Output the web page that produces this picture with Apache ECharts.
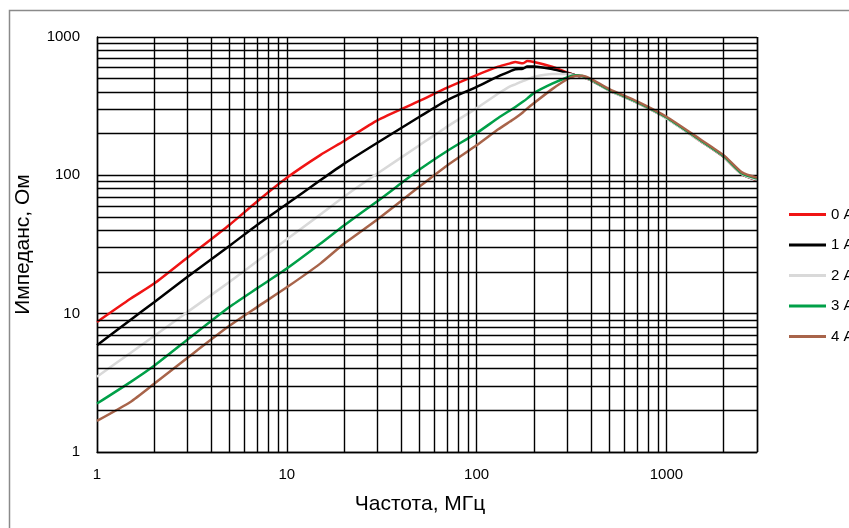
<!DOCTYPE html>
<html><head><meta charset="utf-8">
<script src="https://cdn.jsdelivr.net/npm/echarts@6/dist/echarts.min.js"></script>
<style>html,body{margin:0;padding:0;background:#fff}#c{width:849px;height:528px}</style>
</head><body><div id="c"></div>
<script>
const freq = [1, 1.5, 2, 3, 5, 7, 10, 15, 20, 30, 50, 70, 100, 130, 150, 160, 175, 185, 200, 250, 300, 330, 360, 400, 500, 700, 1000, 1500, 2000, 2500, 3000];
const z0A = [8.7, 12.8, 16.5, 25.5, 44, 65, 96, 140, 177, 250, 345, 430, 530, 610, 645, 660, 645, 670, 660, 610, 555, 530, 515, 488, 412, 336, 260, 178, 136, 102, 92];
const z1A = [5.9, 9, 12.1, 18.5, 31, 44, 62, 92, 121, 172, 265, 350, 436, 520, 565, 585, 590, 612, 612, 586, 550, 530, 515, 488, 412, 337, 260, 179, 137, 102, 93];
const z2A = [3.5, 5.2, 6.9, 10.3, 17, 24, 34.5, 52, 70, 103, 165, 225, 306, 390, 440, 455, 480, 495, 515, 540, 540, 530, 514, 487, 410, 335, 258, 178, 137, 102, 93];
const z3A = [2.24, 3.2, 4.2, 6.5, 11.2, 15.3, 21.2, 32, 43.4, 65, 110, 150, 202, 260, 295, 312, 340, 360, 393, 460, 510, 528, 522, 492, 415, 338, 262, 180, 138, 103, 95];
const z4A = [1.68, 2.3, 3.11, 4.8, 8.2, 11.2, 15.5, 23, 32, 48, 83, 118, 165, 215, 245, 260, 285, 305, 332, 420, 495, 522, 525, 498, 420, 342, 265, 183, 140, 105, 96];
const seriesNames = ['0 А', '1 А', '2 А', '3 А', '4 А'];
const xTicks = [1, 10, 100, 1000];
const yTicks = [1, 10, 100, 1000];
const xMinor = [2,3,4,5,6,7,8,9,20,30,40,50,60,70,80,90,200,300,400,500,600,700,800,900,2000,3000];
const yMinor = [2,3,4,5,6,7,8,9,20,30,40,50,60,70,80,90,200,300,400,500,600,700,800,900];

const colors = ['#f01414', '#000000', '#d9d9d9', '#00a048', '#a8644a'];
const allZ = [z0A, z1A, z2A, z3A, z4A];
const font = 'Liberation Sans, Arial, sans-serif';

const chart = echarts.init(document.getElementById('c'), null, {renderer: 'canvas'});
const series = [{
  type: 'line', name: '_grid', data: [[1, 1]], symbol: 'none', z: 1,
  lineStyle: {opacity: 0}, silent: true,
  markLine: {
    silent: true, symbol: 'none', animation: false,
    label: {show: false},
    lineStyle: {color: '#000', width: 1.4, type: 'solid'},
    emphasis: {disabled: true},
    data: xMinor.map(v => ({xAxis: v})).concat(yMinor.map(v => ({yAxis: v})))
  }
}];
allZ.forEach((arr, i) => {
  series.push({
    type: 'line', name: seriesNames[i], z: 3,
    data: freq.map((f, k) => [f, arr[k]]),
    symbol: 'none', smooth: 0.2,
    lineStyle: {color: colors[i], width: 2.5},
    itemStyle: {color: colors[i]}
  });
});

chart.setOption({
  animation: false,
  backgroundColor: '#fff',
  textStyle: {fontFamily: font},
  grid: {left: 97, top: 37, width: 660, height: 415, containLabel: false},
  legend: {
    data: seriesNames, orient: 'vertical', left: 784, top: 202,
    itemWidth: 37, itemHeight: 3, itemGap: 15.5, icon: 'rect',
    textStyle: {fontSize: 15, color: '#000', fontFamily: font},
    selectedMode: false
  },
  xAxis: {
    type: 'log', logBase: 10, min: 1, max: 3000,
    name: 'Частота, МГц', nameLocation: 'middle', nameGap: 42,
    nameTextStyle: {fontSize: 21, color: '#000', fontFamily: font, padding: [0, 14, 0, 0]},
    axisLine: {show: true, lineStyle: {color: '#000', width: 1.4}},
    axisTick: {show: false},
    axisLabel: {fontSize: 15, color: '#000', margin: 15, fontFamily: font,
      formatter: v => { const r = Math.round(v); return xTicks.includes(r) ? String(r) : ''; }},
    splitLine: {show: true, lineStyle: {color: '#000', width: 1.4}},
    minorTick: {show: false}, minorSplitLine: {show: false}
  },
  yAxis: {
    type: 'log', logBase: 10, min: 1, max: 1000,
    name: 'Импеданс, Ом', nameLocation: 'middle', nameGap: 63,
    nameTextStyle: {fontSize: 21, color: '#000', fontFamily: font},
    axisLine: {show: true, lineStyle: {color: '#000', width: 1.4}},
    axisTick: {show: false},
    axisLabel: {fontSize: 15, color: '#000', margin: 17, fontFamily: font,
      formatter: v => { const r = Math.round(v); return yTicks.includes(r) ? String(r) : ''; }},
    splitLine: {show: true, lineStyle: {color: '#000', width: 1.4}},
    minorTick: {show: false}, minorSplitLine: {show: false}
  },
  graphic: [{
    type: 'rect', left: 7, top: 8, silent: true, z: 0,
    shape: {width: 900, height: 600},
    style: {fill: 'none', stroke: '#8a8a8a', lineWidth: 1.5}
  }],
  series: series
});
</script></body></html>
